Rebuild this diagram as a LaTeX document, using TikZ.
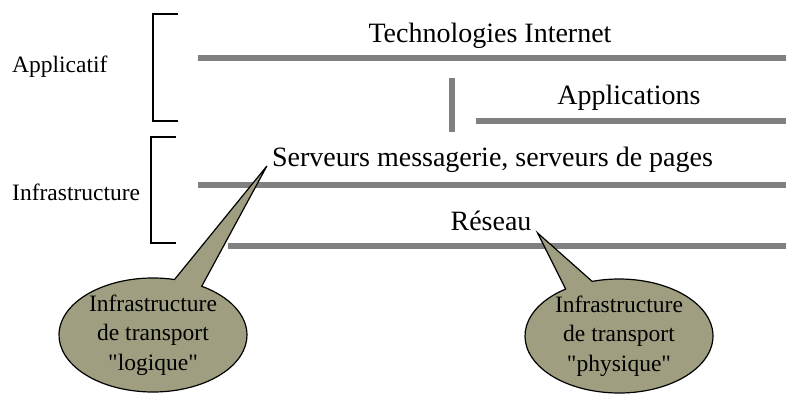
\documentclass[tikz,border=0pt]{standalone}
\usepackage{fontspec}
\setmainfont{Liberation Serif}
\usetikzlibrary{shapes.callouts}
\definecolor{bubblefill}{RGB}{160,158,128}
\definecolor{bargray}{RGB}{128,128,128}

\begin{document}
\begin{tikzpicture}[x=1pt, y=1pt,
    layer/.style={line width=6pt, bargray},
    brace/.style={line width=1.5pt},
    title/.style={inner sep=0pt, anchor=base, font=\fontsize{28}{32}\selectfont},
    side/.style={inner sep=0pt, anchor=base west, font=\fontsize{23.5}{27}\selectfont},
    bubble/.style={ellipse callout, draw, line width=1.2pt, fill=bubblefill,
        inner sep=0pt, minimum width=188pt, minimum height=114pt, callout pointer arc=18,
        align=center, font=\fontsize{23.5}{29.5}\selectfont}]
    \useasboundingbox (0,0) rectangle (786,394);

    % the layers
    \draw[layer] (198,335.5) -- (786,335.5);
    \draw[layer] (452,316) -- (452,262);
    \draw[layer] (476,273) -- (786,273);
    \draw[layer] (198,209) -- (786,209);
    \draw[layer] (228,148) -- (786,148);

    \node[title] (web) at (490,351) {Technologies Internet};
    \node[title] (apps) at (629,289) {Applications};
    \node[title] (srv) at (492.5,227) {Serveurs messagerie, serveurs de pages};
    \node[title] (res) at (491,164) {Réseau};

    % the two groups
    \draw[brace] (178,380) -| (153,273) -- (178,273);
    \draw[brace] (176,257) -| (151,151) -- (176,151);
    \node[side] (appl) at (12,321) {Applicatif};
    \node[side] (infra) at (12,194) {Infrastructure};

    \node[bubble, callout absolute pointer={([xshift=-5pt,yshift=1pt]srv.base west)}]
        (logique) at (153,59) {Infrastructure\\de transport\\\textquotedbl logique\textquotedbl};
    \node[bubble, callout absolute pointer={([xshift=6pt,yshift=-3pt]res.base east)}]
        (physique) at (619,58) {Infrastructure\\de transport\\\textquotedbl physique\textquotedbl};
\end{tikzpicture}
\end{document}
